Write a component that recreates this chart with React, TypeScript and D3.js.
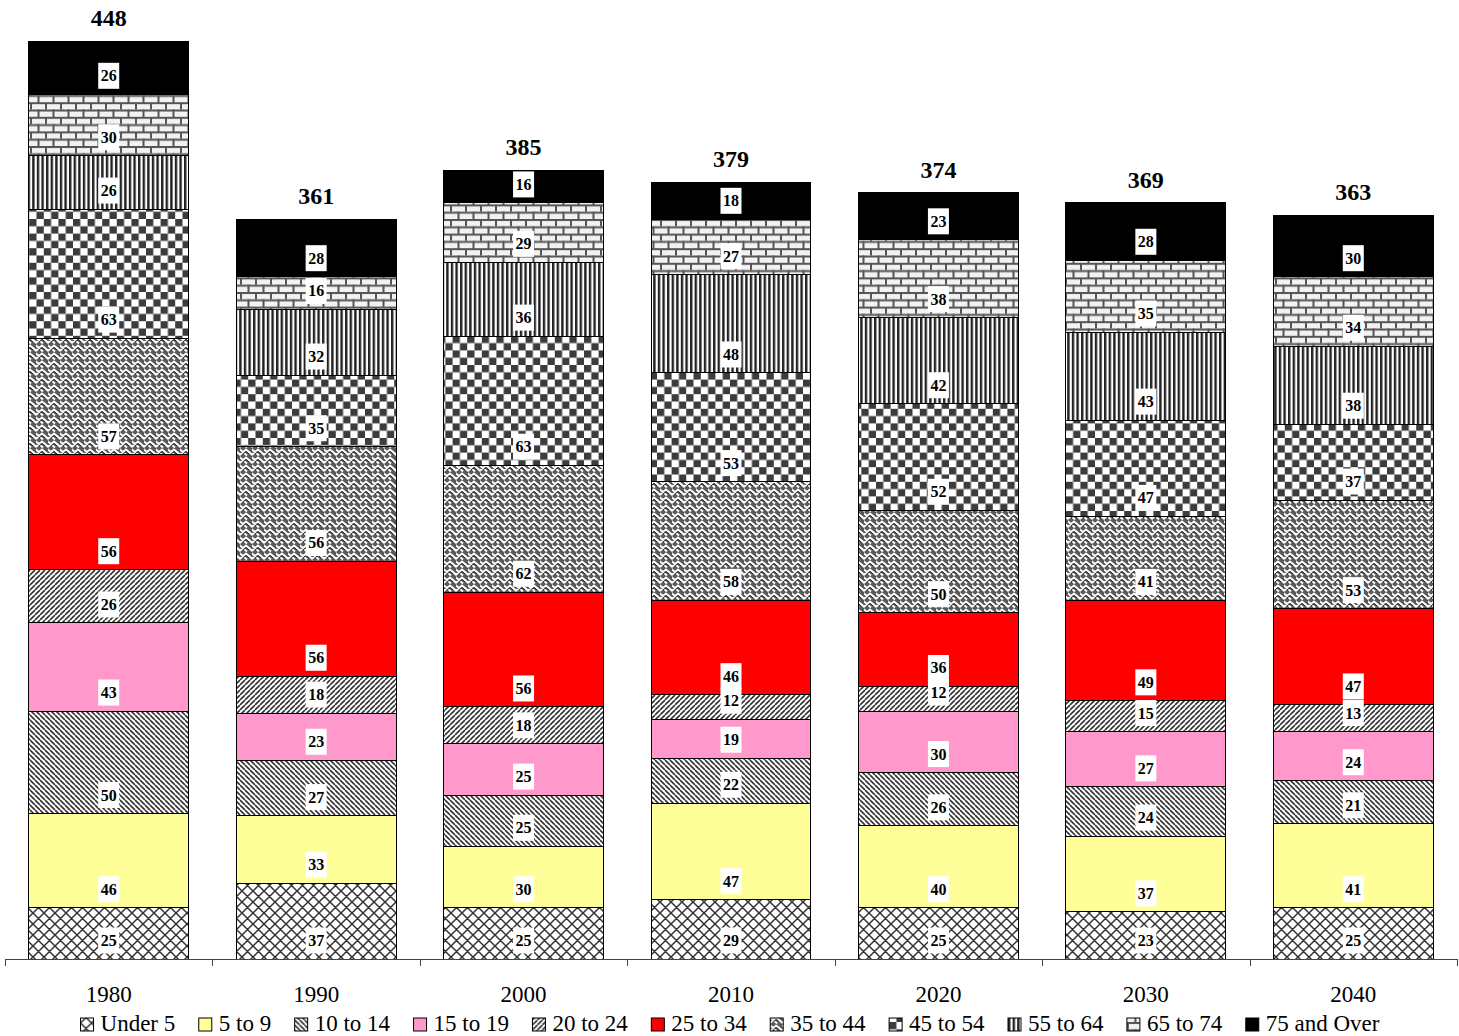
import {useEffect, useRef} from "react";
import * as d3 from "d3";

const years = ["1980", "1990", "2000", "2010", "2020", "2030", "2040"];
const ageGroups = [
  "Under 5",
  "5 to 9",
  "10 to 14",
  "15 to 19",
  "20 to 24",
  "25 to 34",
  "35 to 44",
  "45 to 54",
  "55 to 64",
  "65 to 74",
  "75 and Over",
];

const under5 = [25, 37, 25, 29, 25, 23, 25];
const age5to9 = [46, 33, 30, 47, 40, 37, 41];
const age10to14 = [50, 27, 25, 22, 26, 24, 21];
const age15to19 = [43, 23, 25, 19, 30, 27, 24];
const age20to24 = [26, 18, 18, 12, 12, 15, 13];
const age25to34 = [56, 56, 56, 46, 36, 49, 47];
const age35to44 = [57, 56, 62, 58, 50, 41, 53];
const age45to54 = [63, 35, 63, 53, 52, 47, 37];
const age55to64 = [26, 32, 36, 48, 42, 43, 38];
const age65to74 = [30, 16, 29, 27, 38, 35, 34];
const age75over = [26, 28, 16, 18, 23, 28, 30];

const series = [
  under5, age5to9, age10to14, age15to19, age20to24, age25to34,
  age35to44, age45to54, age55to64, age65to74, age75over,
];

const W = 1459;
const H = 1036;
const FONT = "'Liberation Serif', 'Times New Roman', serif";

export default function App() {
  const svgRef = useRef<SVGSVGElement>(null);

  useEffect(() => {
    if (!svgRef.current) return;
    const svg = d3.select(svgRef.current);
    svg.selectAll("*").remove();

    const rows = years.map((yr, i) => {
      const r: Record<string, number | string> = {year: yr};
      ageGroups.forEach((g, k) => (r[g] = series[k][i]));
      return r;
    });
    const stacked = d3.stack<any>().keys(ageGroups)(rows as any);

    const x = d3.scaleBand().domain(years).range([5, 1457]).paddingInner(0.2287).paddingOuter(0.11435);
    const y = d3.scaleLinear().domain([0, 450]).range([959, 959 - 450 * 2.049]);

    // patterns
    const defs = svg.append("defs");
    const pat = (id: string, w: number, h: number, draw: (p: any) => void) => {
      const p = defs
        .append("pattern")
        .attr("id", id)
        .attr("patternUnits", "userSpaceOnUse")
        .attr("width", w)
        .attr("height", h);
      p.append("rect").attr("width", w).attr("height", h).attr("fill", "#fff");
      draw(p);
    };
    const diagPath = (w: number, dir: number) =>
      [-1, 0, 1]
        .map((k) => (dir > 0 ? `M${k * w},0L${k * w + w},${w}` : `M${k * w},${w}L${k * w + w},0`))
        .join("");

    pat("p0", 11, 11, (p) =>
      p.append("path").attr("d", diagPath(11, 1) + diagPath(11, -1)).attr("stroke", "#333").attr("stroke-width", 1.5).attr("fill", "none"),
    );
    pat("p2", 5, 5, (p) =>
      p.append("path").attr("d", diagPath(5, 1)).attr("stroke", "#333").attr("stroke-width", 1.6).attr("fill", "none"),
    );
    pat("p4", 5, 5, (p) =>
      p.append("path").attr("d", diagPath(5, -1)).attr("stroke", "#333").attr("stroke-width", 1.6).attr("fill", "none"),
    );
    // weave: white chevrons on grey
    pat("p6", 12, 8, (p) => {
      p.select("rect").attr("fill", "#5a5a5a");
      p.append("path")
        .attr("d", "M-1,7.5L6,1.5L13,7.5M-7,7.5L0,1.5L7,7.5")
        .attr("stroke", "#fff")
        .attr("stroke-width", 2)
        .attr("fill", "none");
      p.append("path").attr("d", "M3,6L6,3.5L9,6").attr("stroke", "#222").attr("stroke-width", 1).attr("fill", "none");
    });
    pat("p7", 14.6, 14.6, (p) => {
      p.append("rect").attr("x", 0).attr("y", 0).attr("width", 7.3).attr("height", 7.3).attr("fill", "#3c3c3c");
      p.append("rect").attr("x", 7.3).attr("y", 7.3).attr("width", 7.3).attr("height", 7.3).attr("fill", "#3c3c3c");
    });
    pat("p8", 4.6, 4, (p) => {
      p.append("rect").attr("x", 0).attr("y", 0).attr("width", 2.4).attr("height", 4).attr("fill", "#222");
    });
    pat("p9", 15, 14.6, (p) => {
      p.select("rect").attr("fill", "#f2f2f2");
      const m = "#555";
      p.append("rect").attr("x", 0).attr("y", 0).attr("width", 15).attr("height", 2).attr("fill", m);
      p.append("rect").attr("x", 0).attr("y", 7.3).attr("width", 15).attr("height", 2).attr("fill", m);
      p.append("rect").attr("x", 0).attr("y", 0).attr("width", 2).attr("height", 7.3).attr("fill", m);
      p.append("rect").attr("x", 7.5).attr("y", 7.3).attr("width", 2).attr("height", 7.3).attr("fill", m);
    });

    const fills = [
      "url(#p0)", "#FFFF99", "url(#p2)", "#FF99CC", "url(#p4)", "#FF0000",
      "url(#p6)", "url(#p7)", "url(#p8)", "url(#p9)", "#000000",
    ];

    // bars
    const layers = svg
      .selectAll("g.layer")
      .data(stacked)
      .enter()
      .append("g")
      .attr("class", "layer")
      .attr("fill", (_d, i) => fills[i]);

    layers
      .selectAll("rect")
      .data((d) => d)
      .enter()
      .append("rect")
      .attr("x", (d: any) => x(d.data.year)!)
      .attr("width", x.bandwidth())
      .attr("y", (d) => y(d[1]))
      .attr("height", (d) => y(d[0]) - y(d[1]))
      .attr("stroke", "#000")
      .attr("stroke-width", 1)
      .attr("shape-rendering", "crispEdges");

    // segment labels
    const labels = svg.append("g");
    stacked.forEach((layer) => {
      layer.forEach((d: any) => {
        const cx = x(d.data.year)! + x.bandwidth() / 2;
        const cy = y(d[0]) - 18.5;
        labels.append("rect").attr("x", cx - 10.5).attr("y", cy - 13).attr("width", 21).attr("height", 26).attr("fill", "#fff");
        labels
          .append("text")
          .attr("x", cx)
          .attr("y", cy + 5.5)
          .attr("text-anchor", "middle")
          .style("font-family", FONT)
          .style("font-size", "16px")
          .style("font-weight", "bold")
          .text(d[1] - d[0]);
      });
    });

    // totals
    const top = stacked[stacked.length - 1];
    svg
      .append("g")
      .selectAll("text")
      .data(top)
      .enter()
      .append("text")
      .attr("x", (d: any) => x(d.data.year)! + x.bandwidth() / 2)
      .attr("y", (d) => y(d[1]) - 15)
      .attr("text-anchor", "middle")
      .style("font-family", FONT)
      .style("font-size", "24px")
      .style("font-weight", "bold")
      .text((d) => d[1]);

    // axis
    const ax = svg.append("g");
    ax.append("line").attr("x1", 5).attr("x2", 1457).attr("y1", 959.5).attr("y2", 959.5).attr("stroke", "#444");
    const step = x.step();
    d3.range(years.length + 1).forEach((i) => {
      const tx = Math.round(5 + i * step) + 0.5;
      ax.append("line").attr("x1", tx).attr("x2", tx).attr("y1", 959).attr("y2", 966).attr("stroke", "#444");
    });
    ax.selectAll("text.cat")
      .data(years)
      .enter()
      .append("text")
      .attr("class", "cat")
      .attr("x", (d) => x(d)! + x.bandwidth() / 2)
      .attr("y", 1002)
      .attr("text-anchor", "middle")
      .style("font-family", FONT)
      .style("font-size", "23px")
      .text((d) => d);

    // legend
    const lg = svg.append("g");
    const items = ageGroups.map((g, i) => {
      const it = lg.append("g");
      it.append("rect").attr("x", 0).attr("y", 1018).attr("width", 13).attr("height", 13).attr("fill", fills[i]).attr("stroke", "#000");
      const t = it
        .append("text")
        .attr("x", 20)
        .attr("y", 1031)
        .style("font-family", FONT)
        .style("font-size", "23px")
        .text(g);
      const tw = (t.node() as SVGTextElement).getComputedTextLength();
      return {it, w: 20 + tw};
    });
    const gap = 23.5;
    const total = d3.sum(items, (d) => d.w) + gap * (items.length - 1);
    let cx = 730 - total / 2;
    items.forEach((d) => {
      d.it.attr("transform", `translate(${cx},0)`);
      cx += d.w + gap;
    });
  }, []);

  return (
    <svg
      ref={svgRef}
      width={W}
      height={H}
      style={{position: "absolute", left: 0, top: 0, background: "#fff"}}
    />
  );
}
